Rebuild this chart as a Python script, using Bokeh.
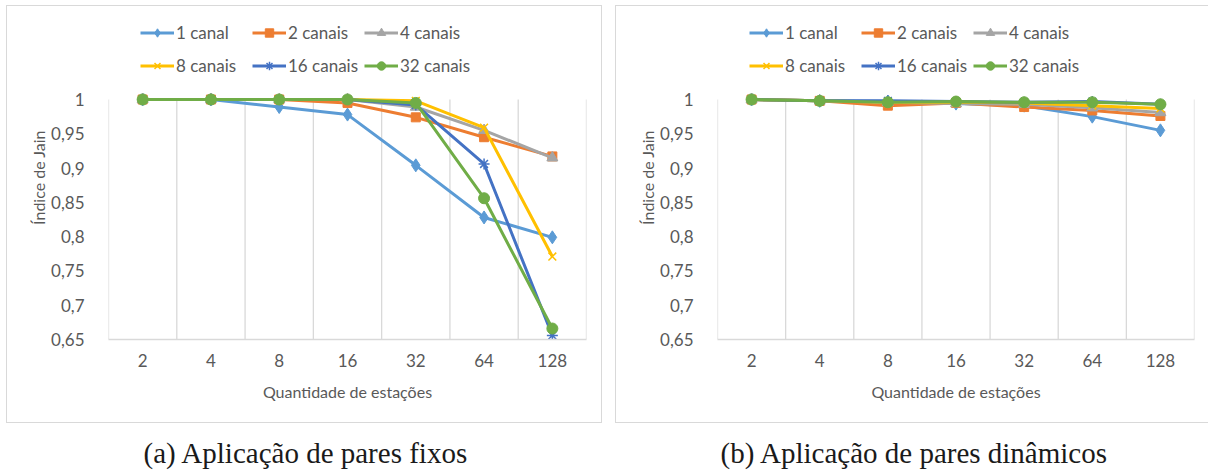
from bokeh.plotting import figure
from bokeh.layouts import row, column
from bokeh.models import Range1d, FixedTicker, Legend, LegendItem
from bokeh.embed import file_html
from bokeh.resources import INLINE

estacoes = ["2", "4", "8", "16", "32", "64", "128"]
series_names = ["1 canal", "2 canais", "4 canais", "8 canais", "16 canais", "32 canais"]
y_tick_labels = ["0,65", "0,7", "0,75", "0,8", "0,85", "0,9", "0,95", "1"]

# (a) pares fixos
fixos_1 = [1.0, 1.0, 0.989, 0.978, 0.904, 0.828, 0.799]
fixos_2 = [1.0, 1.0, 1.0, 0.995, 0.974, 0.945, 0.917]
fixos_4 = [1.0, 1.0, 1.0, 1.0, 0.989, 0.955, 0.915]
fixos_8 = [1.0, 1.0, 1.0, 1.0, 0.998, 0.959, 0.771]
fixos_16 = [1.0, 1.0, 1.0, 1.0, 0.992, 0.906, 0.656]
fixos_32 = [1.0, 1.0, 1.0, 1.0, 0.995, 0.856, 0.666]

# (b) pares dinamicos
din_1 = [1.0, 0.998, 0.997, 0.994, 0.991, 0.975, 0.955]
din_2 = [1.0, 0.998, 0.991, 0.995, 0.989, 0.984, 0.976]
din_4 = [1.0, 0.998, 0.996, 0.994, 0.993, 0.988, 0.981]
din_8 = [1.0, 0.998, 0.996, 0.996, 0.995, 0.991, 0.987]
din_16 = [1.0, 0.998, 0.998, 0.997, 0.996, 0.997, 0.993]
din_32 = [1.0, 0.998, 0.996, 0.997, 0.996, 0.996, 0.993]

captions = ["(a) Aplicação de pares fixos", "(b) Aplicação de pares dinâmicos"]

colors = ["#5B9BD5", "#ED7D31", "#A5A5A5", "#FFC000", "#4472C4", "#70AD47"]
markers = ["diamond", "square", "triangle", "x", "asterisk", "circle"]
msizes = [13, 9, 11, 11, 11, 11]

FONT = "Lato"
TXT = "#595959"
BOX = "#d9d9d9"

PLOT_H = 240      # pixel height of the value area (0,65 .. 1)
LEG_H = 84        # extra frame height above the value area for the legend


def make_chart(data, width, mb_left, mb_right, border_css, margin):
    xs = [i + 0.5 for i in range(len(estacoes))]
    bounds = list(range(len(estacoes) + 1))
    yticks = [float(t.replace(",", ".")) for t in y_tick_labels]
    ylo, yhi = yticks[0], yticks[-1]
    ytop = yhi + (yhi - ylo) * LEG_H / PLOT_H
    p = figure(width=width, height=418, output_backend="svg", toolbar_location=None,
               x_range=Range1d(0, len(estacoes)), y_range=Range1d(ylo, ytop),
               min_border_left=mb_left, min_border_right=mb_right,
               min_border_top=9, min_border_bottom=85)
    p.styles = border_css
    p.margin = margin
    p.outline_line_color = None
    p.background_fill_color = "white"
    p.border_fill_color = "white"

    p.xaxis.ticker = FixedTicker(ticks=xs)
    p.xaxis.major_label_overrides = {x: l for x, l in zip(xs, estacoes)}
    p.xaxis.axis_line_color = BOX
    p.xaxis.axis_line_width = 1.3
    p.xaxis.major_tick_line_color = None
    p.xaxis.minor_tick_line_color = None
    p.xaxis.major_label_text_font = FONT
    p.xaxis.major_label_text_font_size = "17px"
    p.xaxis.major_label_text_color = TXT
    p.xaxis.major_label_standoff = 8
    p.xaxis.axis_label = "Quantidade de estações"
    p.xaxis.axis_label_text_font = FONT
    p.xaxis.axis_label_text_font_size = "16px"
    p.xaxis.axis_label_text_font_style = "normal"
    p.xaxis.axis_label_text_color = TXT
    p.xaxis.axis_label_standoff = 12

    p.yaxis.ticker = FixedTicker(ticks=yticks)
    p.yaxis.major_label_overrides = {v: l for v, l in zip(yticks, y_tick_labels)}
    p.yaxis.axis_line_color = None
    p.yaxis.major_tick_line_color = None
    p.yaxis.minor_tick_line_color = None
    p.yaxis.major_label_text_font = FONT
    p.yaxis.major_label_text_font_size = "17px"
    p.yaxis.major_label_text_color = TXT
    p.yaxis.major_label_standoff = 18
    p.yaxis.axis_label = "Índice de Jain"
    p.yaxis.axis_label_text_font = FONT
    p.yaxis.axis_label_text_font_size = "16px"
    p.yaxis.axis_label_text_font_style = "normal"
    p.yaxis.axis_label_text_color = TXT
    p.yaxis.axis_label_standoff = 0

    p.grid.visible = False
    # vertical category separators, only over the value range
    p.segment(x0=bounds, y0=[ylo] * len(bounds), x1=bounds, y1=[yhi] * len(bounds),
              line_color=BOX, line_width=1.3)

    items = []
    for name, ys, c, m, s in zip(series_names, data, colors, markers, msizes):
        lr = p.line(xs, ys, line_color=c, line_width=3)
        if m in ("x", "asterisk"):
            sr = p.scatter(xs, ys, marker=m, size=s, line_color=c, line_width=1.5)
        else:
            sr = p.scatter(xs, ys, marker=m, size=s, fill_color=c, line_color=c)
        items.append(LegendItem(label=name, renderers=[lr, sr]))

    leg = Legend(items=items, ncols=3, orientation="horizontal",
                 location=(32, 258), padding=0, margin=0, spacing=2,
                 glyph_width=34, glyph_height=21, label_height=31, label_width=74,
                 label_standoff=2,
                 label_text_font=FONT, label_text_font_size="17px", label_text_color=TXT,
                 border_line_color=None, background_fill_alpha=0)
    p.add_layout(leg, "center")
    return p


def make_caption(text, width, offset):
    c = figure(width=width, height=50, output_backend="svg", toolbar_location=None,
               min_border_left=0, min_border_right=0, min_border_top=45,
               min_border_bottom=0, title=text, title_location="above")
    c.axis.visible = False
    c.grid.visible = False
    c.outline_line_color = None
    c.title.align = "left"
    c.title.offset = offset
    c.title.standoff = 0
    c.title.text_font = "Liberation Serif"
    c.title.text_font_size = "29px"
    c.title.text_font_style = "normal"
    c.title.text_color = "#1a1a1a"
    return c


p1 = make_chart([fixos_1, fixos_2, fixos_4, fixos_8, fixos_16, fixos_32],
                596, 101, 17, {"border": "1px solid " + BOX}, (5, 5, 0, 6))
p2 = make_chart([din_1, din_2, din_4, din_8, din_16, din_32],
                593, 101, 15,
                {"border-top": "1px solid " + BOX, "border-left": "1px solid " + BOX,
                 "border-bottom": "1px solid " + BOX}, (5, 0, 0, 6))
c1 = make_caption(captions[0], 609, 42)
c2 = make_caption(captions[1], 600, 10)

layout = row(column(p1, c1), column(p2, c2))
open("out.html", "w").write(file_html(layout, INLINE))
